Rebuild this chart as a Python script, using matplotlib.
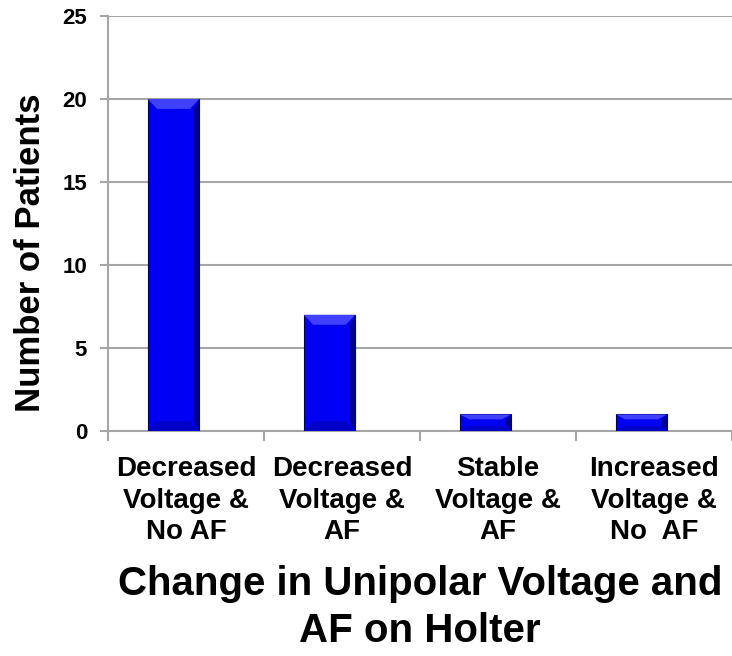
import matplotlib.pyplot as plt
from matplotlib.patches import Polygon

categories = ["Decreased\nVoltage &\nNo AF", "Decreased\nVoltage &\nAF",
              "Stable\nVoltage &\nAF", "Increased\nVoltage &\nNo  AF"]
patients = [20, 7, 1, 1]
y_ticks = [0, 5, 10, 15, 20, 25]

plt.rcParams['font.family'] = ['Liberation Sans', 'DejaVu Sans']
plt.rcParams['font.weight'] = 'bold'

fig = plt.figure(figsize=(7.32, 6.56), dpi=100)
ax = fig.add_axes([0.1475, 0.343, 0.8525, 0.6326])

grid_col = '#a6a6a6'
x = [i + 0.42 for i in range(len(patients))]
bars = ax.bar(x, patients, width=0.33, color='#0000f4', edgecolor='#00005a',
              linewidth=0.8, zorder=3)

# bevel look on each bar
for b in bars:
    x0, w, h = b.get_x(), b.get_width(), b.get_height()
    d = min(0.06, w * 0.2)
    dy = min(h * 0.3, 0.6)
    ax.add_patch(Polygon([(x0, h), (x0 + w, h), (x0 + w - d, h - dy), (x0 + d, h - dy)],
                         closed=True, facecolor='#4040ff', edgecolor='none', zorder=4))
    ax.add_patch(Polygon([(x0, 0), (x0 + w, 0), (x0 + w - d, dy), (x0 + d, dy)],
                         closed=True, facecolor='#0000c8', edgecolor='none', zorder=4))
    ax.add_patch(Polygon([(x0 + w, 0), (x0 + w, h), (x0 + w - d * 0.6, h - dy), (x0 + w - d * 0.6, dy)],
                         closed=True, facecolor='#000090', edgecolor='none', zorder=4))

ax.set_xlim(0, 4)
ax.set_ylim(0, 25)
ax.set_yticks(y_ticks)
ax.set_yticklabels([str(v) for v in y_ticks], fontsize=16, fontweight='bold')
ax.yaxis.grid(True, color=grid_col, linewidth=1.5, zorder=0)
ax.set_axisbelow(True)

ax.set_xticks(range(5))
ax.set_xticklabels([])
ax.set_xticks([i + 0.5 for i in range(4)], minor=True)
ax.set_xticklabels(categories, minor=True, fontsize=20, fontweight='bold', linespacing=1.28)
ax.tick_params(axis='x', which='minor', length=0, pad=18)
ax.tick_params(axis='x', which='major', length=7, width=1.5, color=grid_col)
ax.tick_params(axis='y', length=6, width=1.5, color=grid_col, pad=9)

for s in ['top', 'right']:
    ax.spines[s].set_visible(False)
for s in ['left', 'bottom']:
    ax.spines[s].set_color(grid_col)
    ax.spines[s].set_linewidth(1.5)

ax.set_ylabel("Number of Patients", fontsize=25, fontweight='bold')
ax.yaxis.set_label_coords(-0.098, 0.43)
ax.set_xlabel("Change in Unipolar Voltage and\nAF on Holter", fontsize=29,
              fontweight='bold', labelpad=14, linespacing=1.32)

fig.savefig("out.png", dpi=100)
